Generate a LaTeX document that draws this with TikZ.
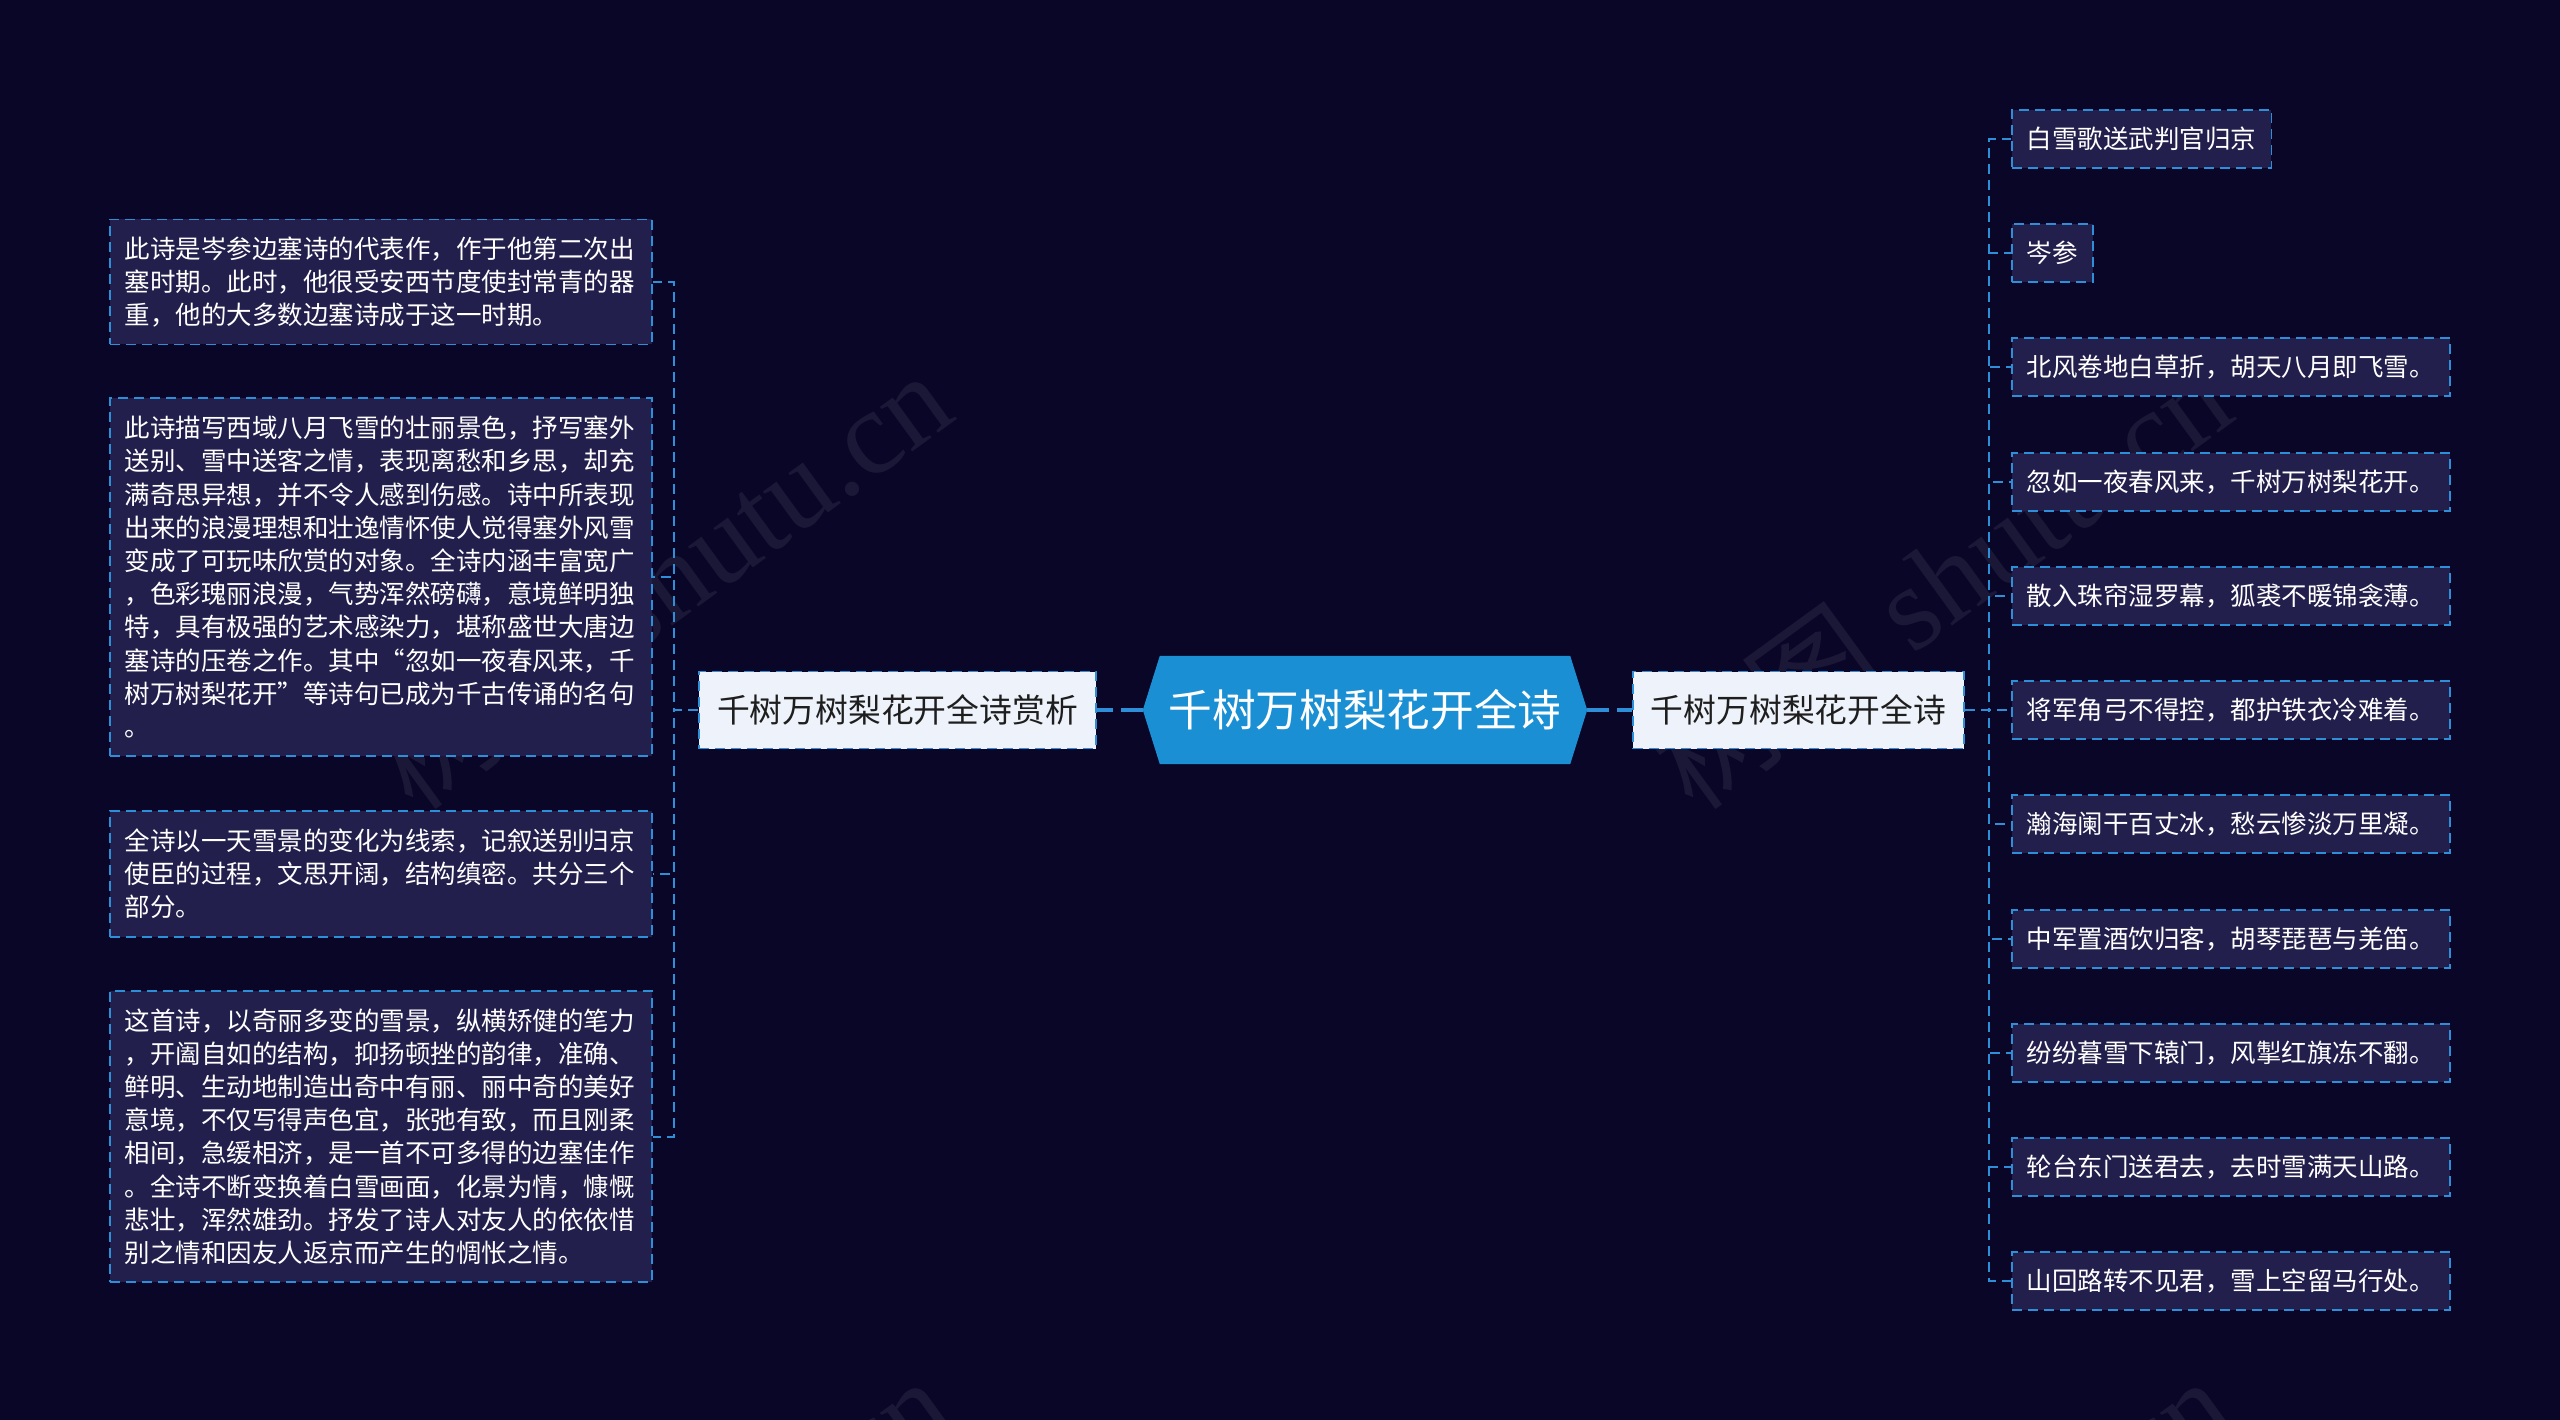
\documentclass[tikz,border=0pt]{standalone}
\usepackage{fontspec}
\setmainfont{Noto Sans CJK SC}
\newfontfamily\wmfont{Liberation Serif}
\newfontfamily\wmcjk{Noto Sans CJK SC}
\usetikzlibrary{calc}
\definecolor{bgc}{HTML}{0A0628}
\definecolor{leaffill}{HTML}{221F4D}
\definecolor{lineblue}{HTML}{2E8FD8}
\definecolor{centerblue}{HTML}{1B8FD3}
\definecolor{branchfill}{HTML}{EEF3FB}
\definecolor{branchtext}{HTML}{1E1E1E}
\pgfdeclarelayer{background}
\pgfsetlayers{background,main}
\tikzset{
  leaf/.style={draw=lineblue, fill=leaffill, line width=1.8pt, dash pattern=on 10pt off 6pt,
    text=white, inner xsep=15pt, inner ysep=0pt, anchor=west,
    font=\fontsize{25.5}{33.2}\selectfont, align=left},
  lbox/.style={leaf, text width=512pt},
  rbox/.style={leaf, minimum height=58pt},
  branch/.style={draw=lineblue, fill=branchfill, line width=1.8pt, dash pattern=on 10pt off 6pt,
    text=branchtext, font=\fontsize{32.8}{40}\selectfont, inner xsep=18pt,
    minimum height=77pt, inner ysep=0pt},
  conn/.style={draw=lineblue, line width=2pt, dash pattern=on 10pt off 6pt},
  mainconn/.style={draw=lineblue, line width=3.5pt, dash pattern=on 22pt off 8pt},
  wm/.style={text=white, opacity=0.07, rotate=36, font=\wmfont\fontsize{120}{130}\selectfont},
}
\newcommand{\wmtext}{{\wmcjk 树图} shutu.cn}
\begin{document}
\begin{tikzpicture}[x=1pt,y=-1pt]
\useasboundingbox (0,0) rectangle (2560,1420);
\begin{pgfonlayer}{background}
  \fill[bgc] (0,0) rectangle (2560,1420);
  \node[wm] (w1) at (660,579) {\wmtext};
  \node[wm] (w2) at (1940,579) {\wmtext};
  \node[wm] (w3) at (660,1585) {\wmtext};
  \node[wm] (w4) at (1940,1585) {\wmtext};
\end{pgfonlayer}

% center
\node[minimum width=444pt, minimum height=108pt, inner sep=0pt, text=white,
      font=\fontsize{43.7}{50}\selectfont] (c) at (1365,710) {千树万树梨花开全诗};
\begin{pgfonlayer}{background}
  \fill[centerblue] (c.west) -- ($(c.north west)+(17,0)$) -- ($(c.north east)+(-17,0)$)
     -- (c.east) -- ($(c.south east)+(-17,0)$) -- ($(c.south west)+(17,0)$) -- cycle;
\end{pgfonlayer}

% branches
\node[branch] (lb) at (897.5,710) {千树万树梨花开全诗赏析};
\node[branch] (rb) at (1798.5,710) {千树万树梨花开全诗};

% left leaves
\node[lbox, minimum height=125pt] (l1) at (109,282) {此诗是岑参边塞诗的代表作，作于他第二次出\\塞时期。此时，他很受安西节度使封常青的器\\重，他的大多数边塞诗成于这一时期。};
\node[lbox, minimum height=358pt] (l2) at (109,577) {此诗描写西域八月飞雪的壮丽景色，抒写塞外\\送别、雪中送客之情，表现离愁和乡思，却充\\满奇思异想，并不令人感到伤感。诗中所表现\\出来的浪漫理想和壮逸情怀使人觉得塞外风雪\\变成了可玩味欣赏的对象。全诗内涵丰富宽广\\，色彩瑰丽浪漫，气势浑然磅礴，意境鲜明独\\特，具有极强的艺术感染力，堪称盛世大唐边\\塞诗的压卷之作。其中“忽如一夜春风来，千\\树万树梨花开”等诗句已成为千古传诵的名句\\。};
\node[lbox, minimum height=126pt] (l3) at (109,874) {全诗以一天雪景的变化为线索，记叙送别归京\\使臣的过程，文思开阔，结构缜密。共分三个\\部分。};
\node[lbox, minimum height=291pt] (l4) at (109,1136.5) {这首诗，以奇丽多变的雪景，纵横矫健的笔力\\，开阖自如的结构，抑扬顿挫的韵律，准确、\\鲜明、生动地制造出奇中有丽、丽中奇的美好\\意境，不仅写得声色宜，张弛有致，而且刚柔\\相间，急缓相济，是一首不可多得的边塞佳作\\。全诗不断变换着白雪画面，化景为情，慷慨\\悲壮，浑然雄劲。抒发了诗人对友人的依依惜\\别之情和因友人返京而产生的惆怅之情。};

% right leaves
\node[rbox] (r1) at (2011,139) {白雪歌送武判官归京};
\node[rbox] (r2) at (2011,253) {岑参};
\node[rbox] (r3) at (2011,367) {北风卷地白草折，胡天八月即飞雪。};
\node[rbox] (r4) at (2011,482) {忽如一夜春风来，千树万树梨花开。};
\node[rbox] (r5) at (2011,596) {散入珠帘湿罗幕，狐裘不暖锦衾薄。};
\node[rbox] (r6) at (2011,710) {将军角弓不得控，都护铁衣冷难着。};
\node[rbox] (r7) at (2011,824) {瀚海阑干百丈冰，愁云惨淡万里凝。};
\node[rbox] (r8) at (2011,939) {中军置酒饮归客，胡琴琵琶与羌笛。};
\node[rbox] (r9) at (2011,1053) {纷纷暮雪下辕门，风掣红旗冻不翻。};
\node[rbox] (r10) at (2011,1167) {轮台东门送君去，去时雪满天山路。};
\node[rbox] (r11) at (2011,1281) {山回路转不见君，雪上空留马行处。};

% connectors
\draw[mainconn] (c.west) -- (lb.east);
\draw[mainconn] (c.east) -- (rb.west);
\coordinate (lt) at (674,710);
\coordinate (rt) at (1989,710);
\foreach \n in {l1,l2,l3,l4} { \draw[conn] (lb.west) -- (lt) |- (\n.east); }
\foreach \n in {r1,r2,r3,r4,r5,r6,r7,r8,r9,r10,r11} { \draw[conn] (rb.east) -- (rt) |- (\n.west); }
\end{tikzpicture}
\end{document}
